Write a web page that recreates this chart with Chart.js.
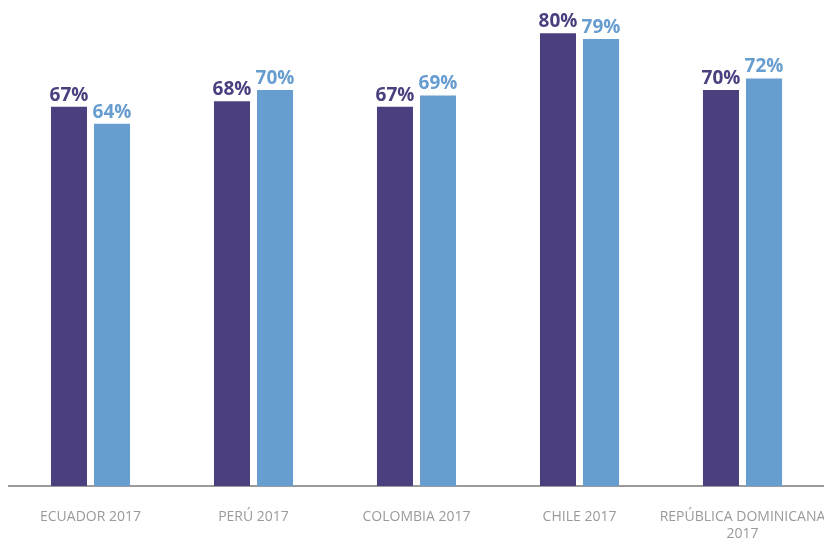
<!DOCTYPE html>
<html>
<head>
<meta charset="utf-8">
<script src="https://cdn.jsdelivr.net/npm/chart.js@4/dist/chart.umd.min.js"></script>
<style>
  html, body { margin: 0; padding: 0; background: #fff; }
  #wrap { width: 824px; height: 538px; }
</style>
</head>
<body>
<div id="wrap"><canvas id="chart" width="824" height="538"></canvas></div>
<script>
const paises = ["ECUADOR 2017", "PERÚ 2017", "COLOMBIA 2017", "CHILE 2017", ["REPÚBLICA DOMINICANA", "2017"]];
const serieA = [67, 68, 67, 80, 70];
const serieB = [64, 70, 69, 79, 72];

const MORADO = "#4b3f7f";
const AZUL = "#689dcf";

// etiquetas de porcentaje encima de cada barra
const etiquetas = {
  id: "etiquetas",
  afterDatasetsDraw(chart) {
    const ctx = chart.ctx;
    ctx.save();
    ctx.font = "bold 19px 'Open Sans', sans-serif";
    ctx.textAlign = "center";
    ctx.textBaseline = "bottom";
    chart.data.datasets.forEach((ds, i) => {
      const meta = chart.getDatasetMeta(i);
      ctx.fillStyle = ds.backgroundColor;
      meta.data.forEach((bar, j) => {
        ctx.fillText(ds.data[j] + "%", bar.x, bar.y - 2);
      });
    });
    ctx.restore();
  }
};

new Chart(document.getElementById("chart"), {
  type: "bar",
  data: {
    labels: paises,
    datasets: [
      { data: serieA, backgroundColor: MORADO },
      { data: serieB, backgroundColor: AZUL }
    ]
  },
  options: {
    responsive: false,
    animation: false,
    layout: { padding: { top: 5, left: 9, right: 0, bottom: 0 } },
    categoryPercentage: 0.528,
    barPercentage: 0.837,
    plugins: { legend: { display: false }, tooltip: { enabled: false } },
    scales: {
      y: { display: false, min: 0, max: 85 },
      x: {
        grid: { display: false },
        border: { display: true, color: "#9b9b9b", width: 2 },
        ticks: {
          color: "#9a9a9a",
          font: { family: "'Open Sans', sans-serif", size: 14 },
          padding: 15,
          maxRotation: 0,
          minRotation: 0,
          autoSkip: false
        },
        afterFit(scale) {
          scale.height = 52;
          // el rótulo largo puede salirse por la derecha
          scale.paddingLeft = 0;
          scale.paddingRight = 0;
        }
      }
    }
  },
  plugins: [etiquetas]
});
</script>
</body>
</html>
